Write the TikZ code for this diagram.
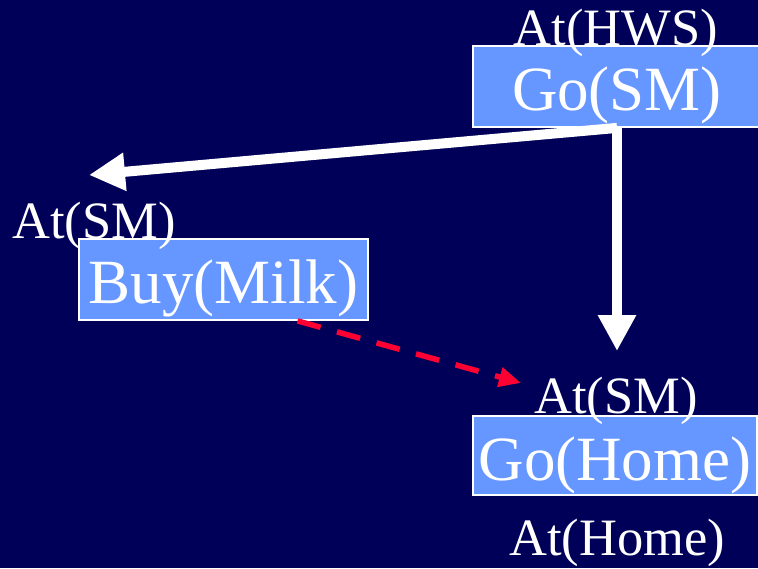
\documentclass[tikz,border=0pt]{standalone}
\usepackage{fontspec}
\setmainfont{Liberation Serif}
\usetikzlibrary{arrows.meta}

\definecolor{slidebg}{RGB}{0,0,88}
\definecolor{opfill}{RGB}{102,150,255}
\definecolor{linkred}{RGB}{255,0,51}

\begin{document}
\begin{tikzpicture}[x=1pt,y=-1pt,
  opbox/.style={draw=white, line width=1.8pt, fill=opfill, text=white,
    inner sep=0pt, text height=64pt, text depth=17pt, anchor=base,
    font=\fontsize{63}{70}\selectfont},
  cond/.style={text=white, inner sep=0pt, anchor=base,
    font=\fontsize{52.5}{60}\selectfont},
  orderlink/.style={draw=white, line width=10pt,
    -{Triangle[length=36pt,width=36pt]}},
  threatlink/.style={draw=linkred, line width=5.5pt, dash pattern=on 24pt off 17pt,
    -{Triangle[length=22pt,width=19pt]}}]

  % slide background
  \fill[slidebg] (0,0) rectangle (758,568);
  \useasboundingbox (0,0) rectangle (758,568);

  % operators
  \node[opbox, minimum width=288pt] (gosm) at (617,110) {Go(SM)};
  \node[opbox, minimum width=289pt] (buy) at (223.5,303) {Buy(Milk)};
  \node[opbox, minimum width=284pt, text height=64pt, text depth=15pt] (gohome) at (615,480) {Go(Home)};

  % conditions
  \node[cond] (athws) at (616,45) {At(HWS)};
  \node[cond] (atsm1) at (94,238) {At(SM)};
  \node[cond] (atsm2) at (616,413) {At(SM)};
  \node[cond] (athome) at (617,555) {At(Home)};

  % arrow ends
  \coordinate (tipleft) at (89,175);
  \coordinate (tipdown) at (617,351);
  \coordinate (tipred) at (521,383);

  % ordering links
  \draw[orderlink] (gosm.south) -- (tipleft);
  \draw[orderlink] (gosm.south) -- (tipdown);

  % threat link
  \draw[threatlink] ([xshift=74pt]buy.south) -- (tipred);
\end{tikzpicture}
\end{document}
